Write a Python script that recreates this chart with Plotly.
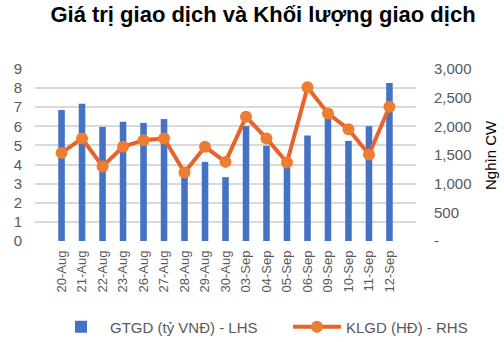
import plotly.graph_objects as go

# Trading days
dates = ["20-Aug", "21-Aug", "22-Aug", "23-Aug", "26-Aug", "27-Aug", "28-Aug",
         "29-Aug", "30-Aug", "03-Sep", "04-Sep", "05-Sep", "06-Sep", "09-Sep",
         "10-Sep", "11-Sep", "12-Sep"]

# Trading value (billion VND) - left axis
gtgd = [6.85, 7.18, 5.97, 6.24, 6.18, 6.38, 3.45, 4.14, 3.34, 6.01,
        4.98, 4.0, 5.52, 6.45, 5.24, 6.01, 8.27]

# Trading volume (thousand CW) - right axis
klgd = [1537, 1789, 1300, 1642, 1759, 1789, 1195, 1642, 1380, 2166,
        1789, 1370, 2680, 2225, 1951, 1509, 2341]

left_ticks = [0, 1, 2, 3, 4, 5, 6, 7, 8, 9]
right_ticks = [0, 500, 1000, 1500, 2000, 2500, 3000]
right_labels = ["-", "500", "1,000", "1,500", "2,000", "2,500", "3,000"]

FONT = "Liberation Sans, Arial, sans-serif"
GREY = "#595959"

fig = go.Figure()
fig.add_trace(go.Bar(
    x=dates, y=gtgd, name="GTGD (tỷ VNĐ) - LHS",
    marker=dict(color="#4472C4", line=dict(width=0)),
    yaxis="y", legend="legend", showlegend=True,
))
fig.add_trace(go.Scatter(
    x=dates, y=klgd, name="KLGD (HĐ) - RHS",
    mode="lines+markers",
    line=dict(color="#E8622B", width=4),
    marker=dict(color="#ED7D31", size=12),
    yaxis="y2", legend="legend2", showlegend=True,
))


def legend_box(x_px):
    return dict(
        orientation="h", xref="container", yref="container",
        xanchor="left", yanchor="middle", x=x_px / 504, y=1 - 327 / 342,
        font=dict(size=15, color=GREY), itemwidth=48,
        bgcolor="rgba(0,0,0,0)", visible=True,
    )


fig.update_layout(
    width=504, height=342,
    showlegend=True,
    margin=dict(l=35, r=88, t=69, b=101),
    paper_bgcolor="white", plot_bgcolor="white",
    bargap=0.68,
    font=dict(family=FONT, color=GREY, size=14),
    title=dict(
        text="<b>Giá trị giao dịch và Khối lượng giao dịch</b>",
        x=263 / 504, xanchor="center", xref="container",
        y=1 - 14 / 342, yanchor="middle", yref="container",
        font=dict(family=FONT, size=22, color="black"),
    ),
    xaxis=dict(
        type="category", tickangle=-90,
        tickfont=dict(size=13, color=GREY),
        showgrid=False, showline=False, ticks="",
        ticklabelstandoff=6,
    ),
    yaxis=dict(
        range=[0, 9], tickvals=left_ticks,
        showgrid=True, gridcolor="#D9D9D9", gridwidth=2,
        zeroline=False, showline=False, ticks="",
        tickfont=dict(size=15, color=GREY),
        ticklabelstandoff=12,
    ),
    yaxis2=dict(
        range=[0, 3000], overlaying="y", side="right",
        tickvals=right_ticks, ticktext=right_labels,
        showgrid=False, zeroline=False, showline=False, ticks="",
        tickfont=dict(size=15, color=GREY),
        ticklabelstandoff=17,
    ),
    legend=legend_box(52),
    legend2=legend_box(288),
    annotations=[dict(
        text="Nghìn CW", textangle=-90,
        xref="paper", yref="paper", x=1 + 74 / 381, y=0.5,
        xanchor="center", yanchor="middle", showarrow=False,
        font=dict(size=15, color="black"),
    )],
)

fig.write_html("out.html")
